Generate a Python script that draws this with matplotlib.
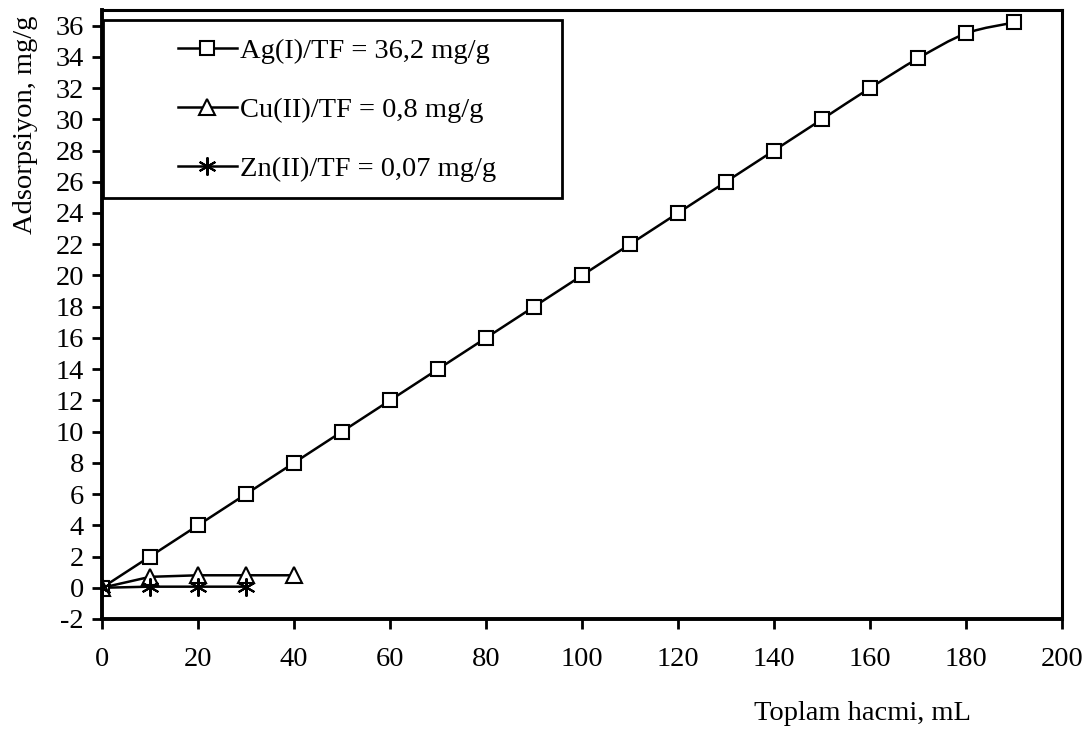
import matplotlib
matplotlib.use("Agg")
import matplotlib.pyplot as plt
from matplotlib.path import Path
from matplotlib.patches import PathPatch, Rectangle
from matplotlib.lines import Line2D
import numpy as np

plt.rcParams['font.family'] = ['Liberation Serif', 'DejaVu Serif']
plt.rcParams['axes.unicode_minus'] = False

# Adsorption vs. total volume
ag_x = [0, 10, 20, 30, 40, 50, 60, 70, 80, 90, 100, 110, 120, 130, 140, 150, 160, 170, 180, 190]
ag_y = [0, 2, 4, 6, 8, 10, 12, 14, 16, 18, 20, 22, 24, 26, 28, 30, 32, 33.9, 35.5, 36.2]
cu_x = [0, 10, 20, 30, 40]
cu_y = [0, 0.7, 0.8, 0.8, 0.8]
zn_x = [0, 10, 20, 30]
zn_y = [0, 0.07, 0.07, 0.07]

labels = ["Ag(I)/TF = 36,2 mg/g", "Cu(II)/TF = 0,8 mg/g", "Zn(II)/TF = 0,07 mg/g"]
x_ticks = list(range(0, 201, 20))
y_ticks = list(range(-2, 37, 2))
x_label = "Toplam hacmi, mL"
y_label = "Adsorpsiyon, mg/g"

FS = 20.5


def smooth_path(xs, ys):
    """Cubic Bezier path through the points (Catmull-Rom style smoothing)."""
    p = np.column_stack([xs, ys]).astype(float)
    n = len(p)
    verts = [p[0]]
    codes = [Path.MOVETO]
    for i in range(n - 1):
        p0 = p[i - 1] if i > 0 else p[i]
        p1 = p[i]
        p2 = p[i + 1]
        p3 = p[i + 2] if i + 2 < n else p[i + 1]
        c1 = p1 + (p2 - p0) / 6.0
        c2 = p2 - (p3 - p1) / 6.0
        verts += [c1, c2, p2]
        codes += [Path.CURVE4] * 3
    return Path(verts, codes)


fig = plt.figure(figsize=(10.89, 7.31), dpi=100)
ax = fig.add_axes([102 / 1089, 1 - 619 / 731, (1062 - 102) / 1089, (619 - 10) / 731])

ms = 10
mew = 1.5
series = [
    (ag_x, ag_y, dict(marker='s', markersize=ms), True),
    (cu_x, cu_y, dict(marker='^', markersize=ms + 1), False),
    (zn_x, zn_y, dict(marker=(6, 2, 0), markersize=ms + 3), False),
]
for xs, ys, mk, smooth in series:
    if smooth:
        ax.add_patch(PathPatch(smooth_path(xs, ys), facecolor='none', edgecolor='black',
                               linewidth=1.8, zorder=2))
    else:
        ax.plot(xs, ys, color='black', linewidth=1.8, zorder=2)
    ax.plot(xs, ys, linestyle='none', color='black', markerfacecolor='white',
            markeredgecolor='black', markeredgewidth=mew, zorder=3, **mk)

ax.set_xlim(0, 200)
ax.set_ylim(-2, 37)
ax.set_xticks(x_ticks)
ax.set_yticks(y_ticks)
ax.tick_params(axis='both', direction='out', length=7, width=2, labelsize=FS,
               colors='black')
ax.tick_params(axis='x', pad=13)
ax.tick_params(axis='y', pad=6)
for side in ['left', 'bottom']:
    ax.spines[side].set_linewidth(2.8)
for side in ['top', 'right']:
    ax.spines[side].set_linewidth(2.2)

fig.text(862 / 1089, 1 - 714 / 731, x_label, ha='center', va='center', fontsize=FS)
fig.text(26 / 1089, 1 - 125 / 731, y_label, ha='center', va='center', fontsize=FS,
         rotation=90)

# Legend box
fig.patches.append(Rectangle((103 / 1089, 1 - 198 / 731), (562 - 103) / 1089,
                             (198 - 20) / 731, transform=fig.transFigure,
                             facecolor='white', edgecolor='black', linewidth=2.0,
                             zorder=5))
handles = [Line2D([], [], color='black', linewidth=1.8, markerfacecolor='white',
                  markeredgecolor='black', markeredgewidth=mew, **mk)
           for _, _, mk, _ in series]
leg = fig.legend(handles, labels, loc='center left',
                 bbox_to_anchor=(178 / 1089, 1 - 110 / 731), frameon=False,
                 fontsize=FS, handlelength=2.07, handletextpad=0.1,
                 labelspacing=1.15, borderpad=0, borderaxespad=0)
leg.set_zorder(6)

fig.savefig("out.png", dpi=100, facecolor='white')
